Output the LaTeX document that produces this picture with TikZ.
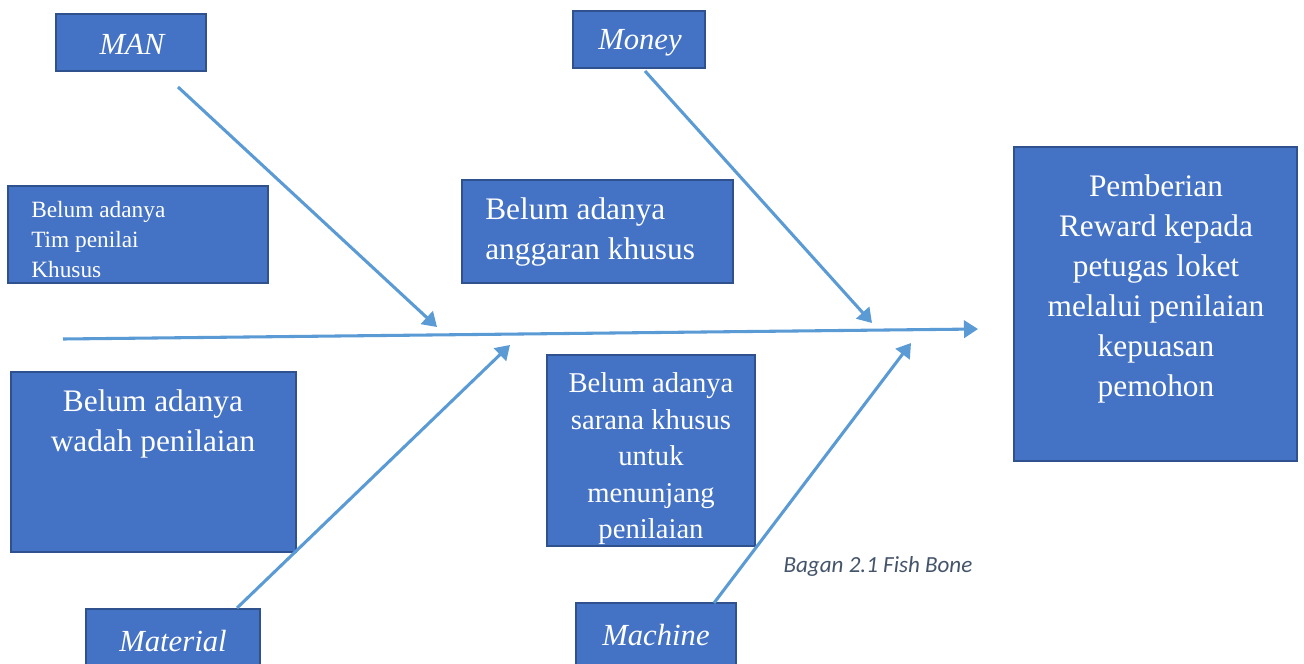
\documentclass[tikz,border=0pt]{standalone}
\usepackage{fontspec}
\setmainfont{Liberation Serif}
\newfontfamily\capfont{Carlito}
\usetikzlibrary{arrows.meta,fit}
\definecolor{boxfill}{HTML}{4472C4}
\definecolor{boxline}{HTML}{2F528F}
\definecolor{bone}{HTML}{5B9BD5}
\definecolor{capcol}{HTML}{44546A}
\begin{document}
\begin{tikzpicture}[x=0.75pt,y=-0.75pt,
  box/.style={draw=boxline,fill=boxfill,line width=1.2pt,inner sep=0pt},
  txt/.style={text=white,inner sep=0pt,font=\fontsize{23.5}{30}\selectfont},
  cat/.style={text=white,inner sep=0pt,font=\fontsize{23}{28}\selectfont\itshape},
  bonearrow/.style={draw=bone,line width=2.3pt,-{Triangle[length=10.5pt,width=13pt]}}]
\useasboundingbox (0,0) rectangle (1304,664);
\fill[white] (0,0) rectangle (1304,664);
% boxes
\node[box,fit={(56,14) (206,71)}] (manbox) {};
\node[box,fit={(573,11) (705,68)}] (moneybox) {};
\node[box,fit={(8,186) (268,283)}] (timbox) {};
\node[box,fit={(462,180) (733,283)}] (anggbox) {};
\node[box,fit={(11,372) (296,552)}] (wadahbox) {};
\node[box,fit={(547,355) (755,546)}] (saranabox) {};
\node[box,fit={(1014,147) (1297,461)}] (effbox) {};
\node[box,fit={(86,609) (260,680)}] (matbox) {};
\node[box,fit={(576,603) (736,680)}] (machbox) {};
% texts
\node[cat] (man) at (132,44) {MAN};
\node[cat] (money) at (640,43) {Money};
\node[cat] (mat) at (173,641) {Material};
\node[cat] (mach) at (656,635) {Machine};
\node[txt,anchor=west,align=left,font=\fontsize{17.5}{22.5}\selectfont] (tim) at (31,240) {Belum adanya\\Tim penilai\\Khusus};
\node[txt,anchor=west,align=left] (angg) at (485,232) {Belum adanya\\anggaran khusus};
\node[txt,align=center] (wadah) at (153,424) {Belum adanya\\wadah penilaian};
\node[txt,align=center,font=\fontsize{21.5}{27.4}\selectfont] (sarana) at (651,459) {Belum adanya\\sarana khusus\\untuk\\menunjang\\penilaian};
\node[txt,align=center] (eff) at (1156,289) {Pemberian\\Reward kepada\\petugas loket\\melalui penilaian\\kepuasan\\pemohon};
\node[inner sep=0pt,text=capcol,font=\capfont\itshape\fontsize{17.3}{20}\selectfont] (cap) at (878,566) {Bagan 2.1 Fish Bone};
% bones
\coordinate (spineS) at (63,339);
\coordinate (spineE) at (978,329);
\coordinate (manS) at (178,87);
\coordinate (manE) at (437,327);
\coordinate (monS) at (645,71);
\coordinate (monE) at (872,323);
\coordinate (matS) at (237,608);
\coordinate (matE) at (510,345);
\coordinate (machS) at (714,603);
\coordinate (machE) at (911,343);
\draw[bonearrow] (spineS) -- (spineE);
\draw[bonearrow] (manS) -- (manE);
\draw[bonearrow] (monS) -- (monE);
\draw[bonearrow] (matS) -- (matE);
\draw[bonearrow] (machS) -- (machE);
\end{tikzpicture}
\end{document}
